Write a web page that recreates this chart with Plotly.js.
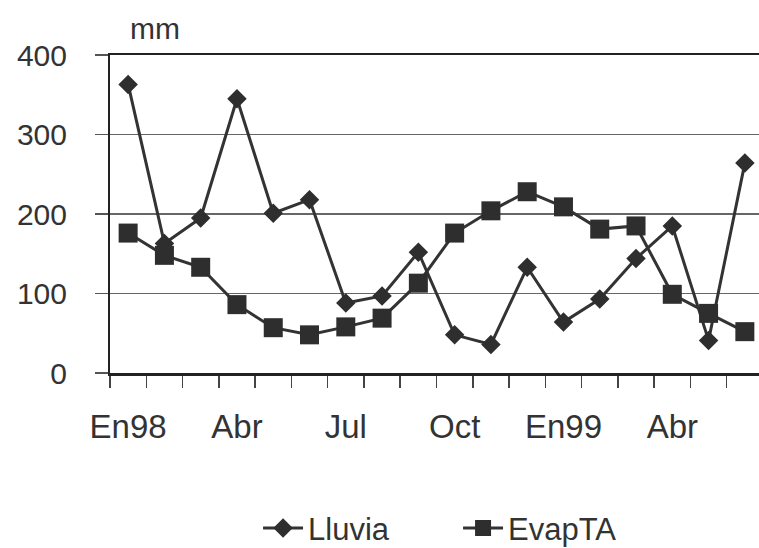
<!DOCTYPE html>
<html>
<head>
<meta charset="utf-8">
<script src="https://cdn.plot.ly/plotly-3.0.1.min.js"></script>
<style>html,body{margin:0;padding:0;background:#fff;overflow:hidden;}</style>
</head>
<body>
<div id="chart" style="width:759px;height:548px;"></div>
<script>
var months = ["Ene98","Feb98","Mar98","Abr98","May98","Jun98","Jul98","Ago98","Sep98","Oct98","Nov98","Dic98","Ene99","Feb99","Mar99","Abr99","May99","Jun99"];
var tickLabels = ["En98","","","Abr","","","Jul","","","Oct","","","En99","","","Abr","",""];
var lluvia = [363, 163, 195, 345, 201, 218, 88, 97, 152, 48, 36, 133, 64, 93, 144, 185, 41, 264];
var evapTA = [176, 148, 133, 86, 57, 48, 58, 69, 113, 176, 204, 228, 209, 181, 185, 99, 75, 52];

var ink = "#333333";
var font = "Liberation Sans, Arial, sans-serif";

var traces = [
  {x: months, y: lluvia, name: "Lluvia", type: "scatter", mode: "lines+markers",
   line: {color: ink, width: 3},
   marker: {symbol: "diamond", size: 15, color: "#2e2e2e"}},
  {x: months, y: evapTA, name: "EvapTA", type: "scatter", mode: "lines+markers",
   line: {color: ink, width: 3},
   marker: {symbol: "square", size: 19, color: "#2e2e2e"}}
];

var layout = {
  width: 759, height: 548,
  margin: {l: 110, r: 0, t: 55, b: 175},
  paper_bgcolor: "#fff", plot_bgcolor: "#fff",
  font: {family: font, color: ink},
  showlegend: true,
  legend: {orientation: "h", xref: "container", yref: "container", x: 0.34, y: 0.085,
           xanchor: "left", yanchor: "top", font: {size: 31, color: ink}, bgcolor: "rgba(0,0,0,0)",
           entrywidth: 145, itemwidth: 40},
  xaxis: {type: "category", range: [-0.5, 17.39], tickmode: "array", tickvals: months, ticktext: tickLabels,
          tickangle: 0, tickson: "boundaries", ticks: "outside", ticklen: 12, tickwidth: 1.5, tickcolor: "#444",
          showgrid: false, showline: true, linecolor: "#222", linewidth: 2.5, mirror: true,
          tickfont: {size: 33, color: ink}, ticklabelstandoff: 23, zeroline: false, fixedrange: true},
  yaxis: {range: [0, 400], tickvals: [0, 100, 200, 300, 400], ticks: "outside", ticklen: 13, tickwidth: 1.5,
          tickcolor: "#555", showgrid: true, gridcolor: "#666", gridwidth: 1.3,
          showline: true, linecolor: "#222", linewidth: 2, zeroline: false,
          tickfont: {size: 30, color: ink}, ticklabelstandoff: 22, fixedrange: true},
  annotations: [{text: "mm", xref: "paper", yref: "paper", x: 0.069, y: 1.082, showarrow: false,
                 xanchor: "center", yanchor: "middle", font: {size: 30, color: ink, family: font}}]
};

Plotly.newPlot("chart", traces, layout, {displayModeBar: false, staticPlot: true});
</script>
</body>
</html>
